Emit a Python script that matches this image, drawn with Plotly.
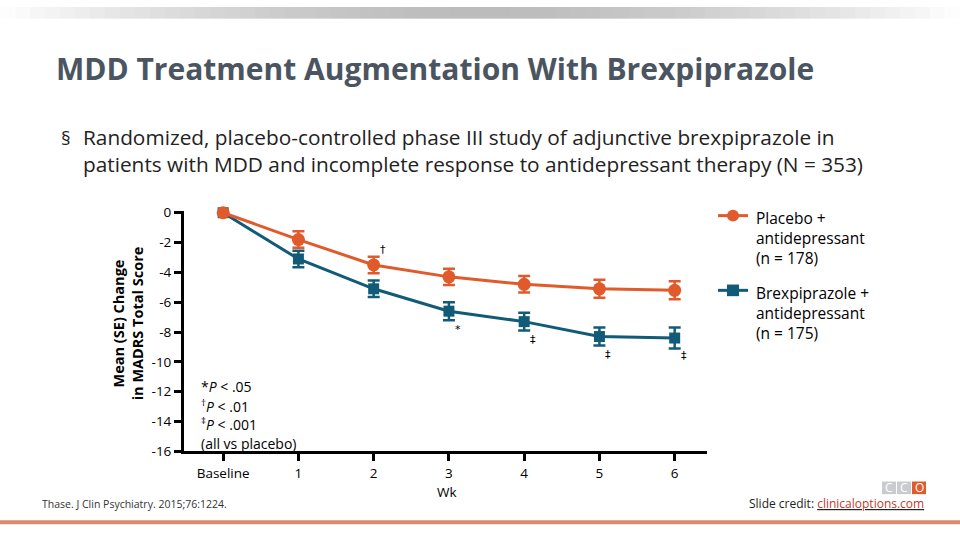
import plotly.graph_objects as go

# ---- data ----
weeks = ["Baseline", "1", "2", "3", "4", "5", "6"]
week_pos = [0, 1, 2, 3, 4, 5, 6]
placebo_mean = [0.0, -1.8, -3.5, -4.3, -4.8, -5.1, -5.2]
placebo_se = [0.0, 0.55, 0.55, 0.55, 0.55, 0.6, 0.6]
brex_mean = [0.0, -3.1, -5.1, -6.6, -7.3, -8.3, -8.4]
brex_se = [0.0, 0.55, 0.55, 0.6, 0.6, 0.6, 0.7]
sig_marks = ["", "", "†", "*", "‡", "‡", "‡"]
y_ticks = [0, -2, -4, -6, -8, -10, -12, -14, -16]
y_tick_labels = ["0", "-2", "-4", "-6", "-8", "-10", "-12", "-14", "-16"]

ORANGE = "#E05A2B"
TEAL = "#125B78"
FONT = "Open Sans"

fig = go.Figure()
fig.add_trace(go.Scatter(
    x=week_pos, y=brex_mean, mode="lines+markers",
    line=dict(color=TEAL, width=3),
    marker=dict(symbol="square", size=11, color=TEAL),
    error_y=dict(type="data", array=brex_se, color=TEAL, thickness=2.5, width=6),
    name="Brexpiprazole", showlegend=False, cliponaxis=False))
fig.add_trace(go.Scatter(
    x=week_pos, y=placebo_mean, mode="lines+markers",
    line=dict(color=ORANGE, width=3),
    marker=dict(symbol="circle", size=13, color=ORANGE),
    error_y=dict(type="data", array=placebo_se, color=ORANGE, thickness=2.5, width=6),
    name="Placebo", showlegend=False, cliponaxis=False))

ann = []
# significance marks
for i, m in enumerate(sig_marks):
    if not m:
        continue
    if m == "†":
        ann.append(dict(x=week_pos[i] + 0.12, y=placebo_mean[i] + 1.05, text=m,
                        xref="x", yref="y", showarrow=False,
                        font=dict(size=11, color="#000000", family="DejaVu Sans")))
    else:
        ann.append(dict(x=week_pos[i] + 0.12, y=brex_mean[i] - 1.2, text=m,
                        xref="x", yref="y", showarrow=False,
                        font=dict(size=11, color="#000000", family="DejaVu Sans")))

fig.update_layout(
    width=960, height=540,
    margin=dict(l=0, r=0, t=0, b=0),
    paper_bgcolor="white", plot_bgcolor="white",
    font=dict(family=FONT, color="#000"),
    xaxis=dict(domain=[0.1917, 0.7365], range=[-0.52, 6.43],
               tickvals=week_pos, ticktext=weeks, showgrid=False, zeroline=False,
               showline=True, linecolor="#000", linewidth=3,
               ticks="outside", ticklen=7, tickwidth=3, tickcolor="#000",
               tickfont=dict(size=13.5, family=FONT, color="#000")),
    yaxis=dict(domain=[0.1519, 0.6111], range=[-16, 0.13],
               tickvals=y_ticks, ticktext=y_tick_labels, showgrid=False, zeroline=False,
               showline=True, linecolor="#000", linewidth=3,
               ticks="outside", ticklen=7, tickwidth=3, tickcolor="#000",
               tickfont=dict(size=13.5, family=FONT, color="#000")),
)

# top gradient bar
n = 64
for k in range(n):
    t = abs((k + 0.5) / n - 0.5) * 2
    g = int(188 + 67 * t ** 1.6)
    fig.add_shape(type="rect", xref="paper", yref="paper",
                  x0=k / n, x1=(k + 1) / n, y0=1 - 12 / 540, y1=1,
                  fillcolor=f"rgb({g},{g},{g})", line=dict(width=0), layer="below")
# bottom orange rule
fig.add_shape(type="rect", xref="paper", yref="paper", x0=0, x1=1,
              y0=1 - 533 / 540, y1=1 - 529 / 540,
              fillcolor="#D98A6B", line=dict(width=0))

def px(x, y):
    return x / 960, 1 - y / 540

# titles and text
x, y = px(54, 63)
ann.append(dict(x=x, y=y, xref="paper", yref="paper", xanchor="left", yanchor="middle",
                text="<b>MDD Treatment Augmentation With Brexpiprazole</b>", showarrow=False,
                font=dict(size=30, color="#4A5561", family=FONT)))
x, y = px(59, 135)
ann.append(dict(x=x, y=y, xref="paper", yref="paper", xanchor="left", yanchor="middle",
                text="§", showarrow=False, font=dict(size=19, color="#222", family=FONT)))
x, y = px(81, 148)
ann.append(dict(x=x, y=y, xref="paper", yref="paper", xanchor="left", yanchor="middle", align="left",
                text="Randomized, placebo-controlled phase III study of adjunctive brexpiprazole in<br>"
                     "patients with MDD and incomplete response to antidepressant therapy (N = 353)",
                showarrow=False, font=dict(size=20.8, color="#222", family=FONT)))
# y axis title
x, y = px(128, 326)
ann.append(dict(x=x, y=y, xref="paper", yref="paper", xanchor="center", yanchor="middle",
                text="<b>Mean (SE) Change<br>in MADRS Total Score</b>", textangle=-90,
                showarrow=False, font=dict(size=14.5, color="#000", family=FONT)))
# x axis title
x, y = px(447, 500)
ann.append(dict(x=x, y=y, xref="paper", yref="paper", xanchor="center", yanchor="middle",
                text="Wk", showarrow=False,
                font=dict(size=13.5, color="#000", family=FONT)))
# p-value key
for txt, yy in [("*<i>P</i> < .05", 391), ("<sup>†</sup><i>P</i> < .01", 411),
                ("<sup>‡</sup><i>P</i> < .001", 430), ("(all vs placebo)", 450)]:
    x, y = px(199, yy)
    ann.append(dict(x=x, y=y, xref="paper", yref="paper", xanchor="left", yanchor="middle",
                    text=txt, showarrow=False, font=dict(size=14, color="#000", family=FONT)))
# legend
for col, sym, yy, lines in [(ORANGE, "circle", 215, "Placebo +<br>antidepressant<br>(n = 178)"),
                            (TEAL, "square", 292, "Brexpiprazole +<br>antidepressant<br>(n = 175)")]:
    x0, y0 = px(718, yy)
    x1, _ = px(748, yy)
    fig.add_shape(type="line", xref="paper", yref="paper", x0=x0, x1=x1, y0=y0, y1=y0,
                  line=dict(color=col, width=3))
    cx, cy = px(733, yy)
    r = 6 / 960
    ry = 6 / 540
    fig.add_shape(type="circle" if sym == "circle" else "rect", xref="paper", yref="paper",
                  x0=cx - r, x1=cx + r, y0=cy - ry, y1=cy + ry, fillcolor=col, line=dict(width=0))
    tx, ty = px(754, yy - 11)
    ann.append(dict(x=tx, y=ty, xref="paper", yref="paper", xanchor="left", yanchor="top",
                    align="left", text=lines, showarrow=False,
                    font=dict(size=15.5, color="#000", family=FONT)))
# footers
x, y = px(40, 512)
ann.append(dict(x=x, y=y, xref="paper", yref="paper", xanchor="left", yanchor="middle",
                text="Thase. J Clin Psychiatry. 2015;76:1224.", showarrow=False,
                font=dict(size=10.5, color="#333", family=FONT)))
x, y = px(926, 512)
ann.append(dict(x=x, y=y, xref="paper", yref="paper", xanchor="right", yanchor="middle",
                text="Slide credit: <u><span style='color:#C0392B'>clinicaloptions.com</span></u>",
                showarrow=False, font=dict(size=12, color="#222", family=FONT)))
# CCO logo
for i, c in enumerate(["#C8CCD0", "#C8CCD0", "#E05A2B"]):
    xa, ya = px(882 + i * 15, 502)
    xb, yb = px(896 + i * 15, 489)
    fig.add_shape(type="rect", xref="paper", yref="paper", x0=xa, x1=xb, y0=ya, y1=yb,
                  fillcolor=c, line=dict(width=0))
    ann.append(dict(x=(xa + xb) / 2, y=(ya + yb) / 2, xref="paper", yref="paper",
                    xanchor="center", yanchor="middle",
                    text="C" if i < 2 else "O", showarrow=False,
                    font=dict(size=12, color="#ffffff", family=FONT)))

fig.update_layout(annotations=ann)
fig.write_html("out.html")
